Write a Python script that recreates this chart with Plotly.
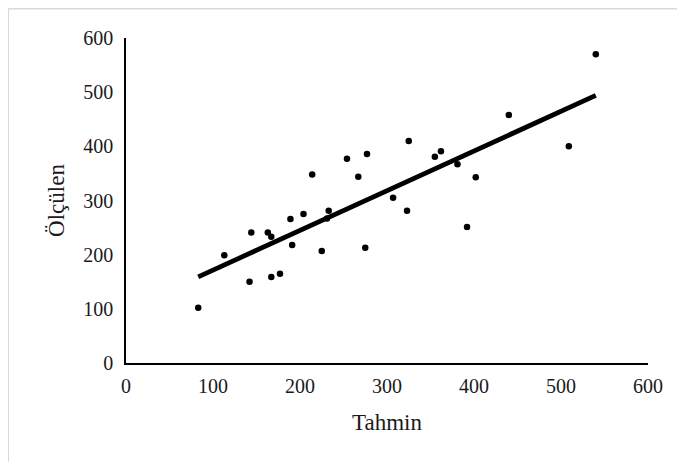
import plotly.graph_objects as go

# Data
tahmin = [83, 113, 144, 142, 163, 167, 167, 177, 189, 191, 204, 225, 233, 231, 275,
          214, 254, 267, 277, 325, 307, 323, 355, 362, 381, 402, 392, 440, 509, 540]
olculen = [102, 199, 241, 150, 241, 233, 159, 165, 266, 218, 275, 207, 281, 267, 213,
           348, 377, 344, 386, 410, 305, 281, 381, 391, 367, 343, 251, 458, 400, 570]
trend_x = [83, 540]
trend_y = [159, 494]
tick_vals = [0, 100, 200, 300, 400, 500, 600]

# page body has an 8px margin, so the figure is sized/placed to compensate
W, H = 677, 454
ML, MR, MT, MB = 118, 37, 30, 99
font = "Liberation Serif, Times New Roman, serif"
txt = "#1a1a1a"

fig = go.Figure()
fig.add_trace(go.Scatter(x=trend_x, y=trend_y, mode="lines",
                         line=dict(color="black", width=4.8), showlegend=False))
fig.add_trace(go.Scatter(x=tahmin, y=olculen, mode="markers",
                         marker=dict(color="black", size=6.5), showlegend=False))

fig.update_layout(
    width=W, height=H,
    margin=dict(l=ML, r=MR, t=MT, b=MB, pad=0),
    paper_bgcolor="white", plot_bgcolor="white",
    font=dict(family=font, color=txt, size=20),
    xaxis=dict(range=[0, 600], tickvals=tick_vals, showgrid=False, zeroline=False,
               showline=True, linecolor="black", linewidth=1.5, ticks="outside",
               ticklen=4, tickcolor="rgba(0,0,0,0)",
               tickfont=dict(family=font, size=20, color=txt),
               title=dict(text="Tahmin", font=dict(family=font, size=23, color=txt),
                          standoff=18)),
    yaxis=dict(range=[0, 600], tickvals=tick_vals, showgrid=False, zeroline=False,
               showline=True, linecolor="black", linewidth=1.5, ticks="outside",
               ticklen=7, tickcolor="rgba(0,0,0,0)",
               tickfont=dict(family=font, size=20, color=txt),
               title=dict(text="Ölçülen", font=dict(family=font, size=23, color=txt),
                          standoff=12)),
)

pw = W - ML - MR
ph = H - MT - MB
def px_x(p):
    return (p - ML) / pw
def px_y(p):
    return (H - MB - p) / ph

border = dict(color="#d9d9d9", width=2)
fig.add_shape(type="line", xref="paper", yref="paper",
              x0=px_x(0), x1=px_x(W + 2), y0=px_y(0.5), y1=px_y(0.5), line=border)
fig.add_shape(type="line", xref="paper", yref="paper",
              x0=px_x(0), x1=px_x(0), y0=px_y(0), y1=px_y(H + 2), line=border)

fig.write_html("out.html")
